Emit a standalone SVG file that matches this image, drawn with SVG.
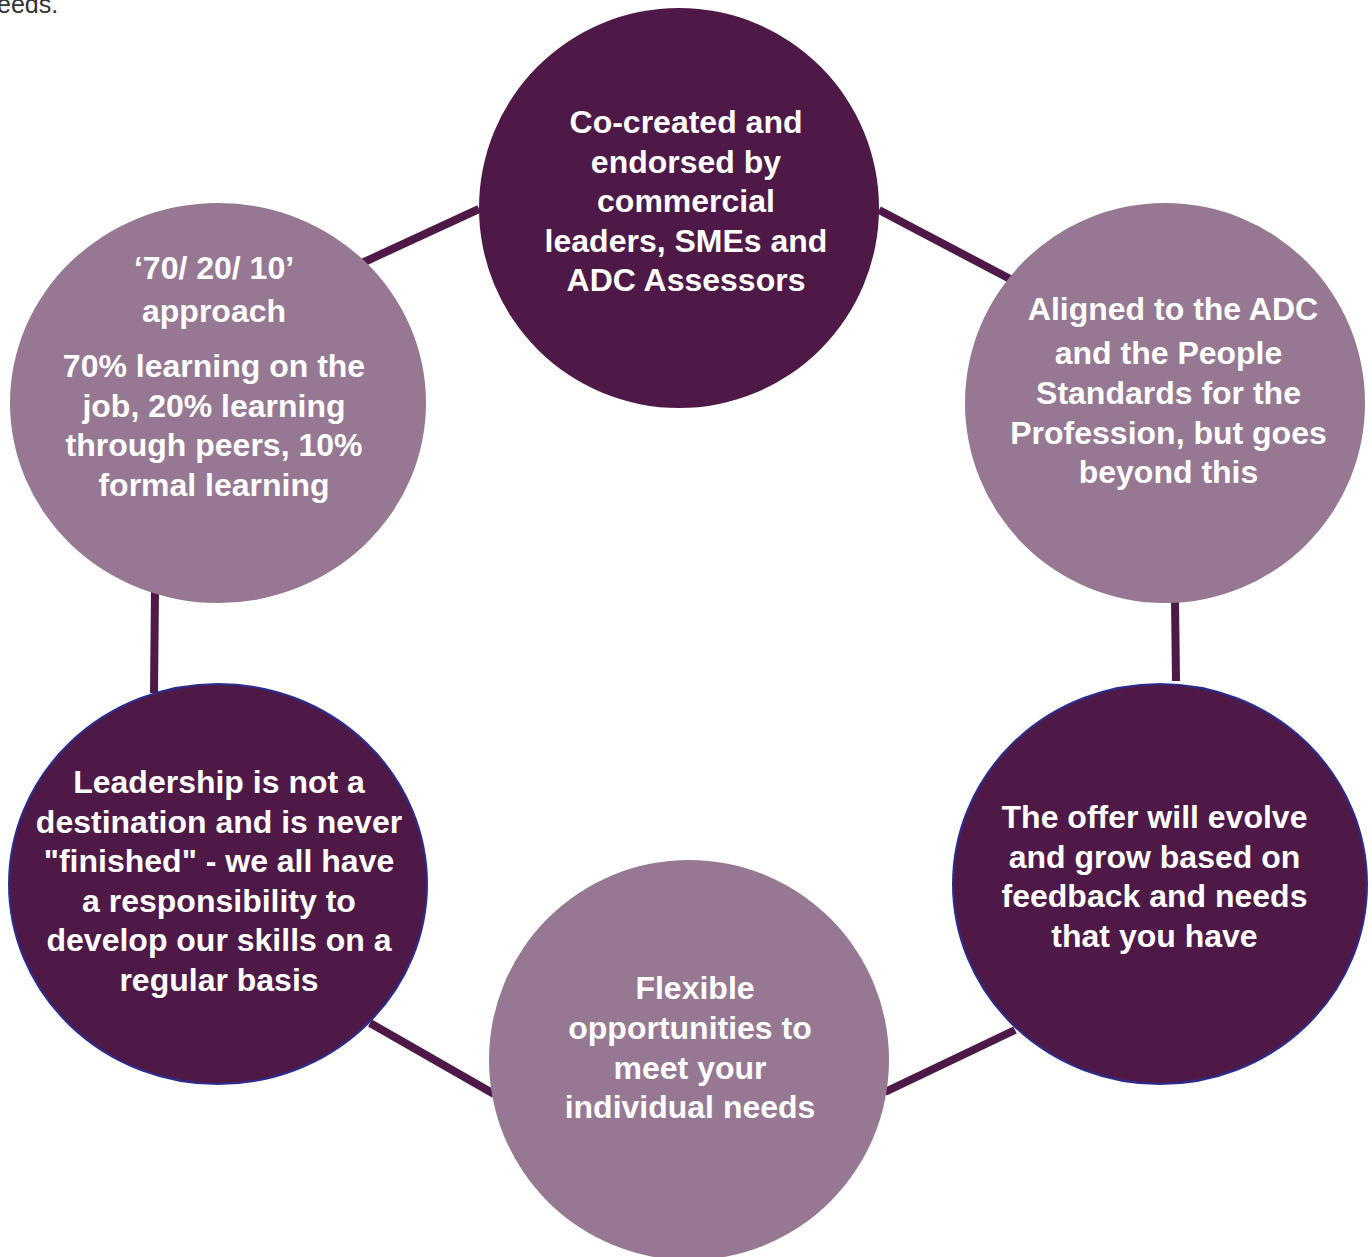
<svg xmlns="http://www.w3.org/2000/svg" width="1372" height="1257" viewBox="0 0 1372 1257">
<style>
.dark{fill:#4f1947}
.light{fill:#977893}
.blue{stroke:#2a2d8f;stroke-width:2}
.lbl{font-family:"Liberation Sans",Arial,sans-serif;font-weight:bold;font-size:32px;fill:#ffffff;text-anchor:middle}
.conn line{stroke:#4f1947;stroke-width:8}
.top{font-family:"Liberation Sans",Arial,sans-serif;font-size:25px;fill:#333333}
</style>
<rect width="1372" height="1257" fill="#ffffff"/>
<text class="top" x="-3" y="13">eeds.</text>
<g class="conn" id="connectors">
<line x1="362" y1="263" x2="479" y2="209"/>
<line x1="879" y1="210" x2="1012" y2="280"/>
<line x1="1175" y1="600" x2="1176" y2="681"/>
<line x1="1015" y1="1030" x2="885" y2="1092"/>
<line x1="370" y1="1023" x2="494" y2="1094"/>
<line x1="155" y1="590" x2="154" y2="693"/>
</g>
<g id="node-top">
<circle class="dark" cx="679" cy="208" r="200"/>
<text class="lbl"><tspan x="686" y="133">Co-created and</tspan><tspan x="686" y="172.5">endorsed by</tspan><tspan x="686" y="212">commercial</tspan><tspan x="686" y="251.5">leaders, SMEs and</tspan><tspan x="686" y="291">ADC Assessors</tspan></text>
</g>
<g id="node-topleft">
<ellipse class="light" cx="218" cy="403" rx="208" ry="200"/>
<text class="lbl"><tspan x="214" y="279">‘70/ 20/ 10’</tspan><tspan x="214" y="322">approach</tspan><tspan x="214" y="377">70% learning on the</tspan><tspan x="214" y="416.5">job, 20% learning</tspan><tspan x="214" y="456">through peers, 10%</tspan><tspan x="214" y="495.5">formal learning</tspan></text>
</g>
<g id="node-topright">
<circle class="light" cx="1165" cy="403" r="200"/>
<text class="lbl"><tspan x="1173" y="320">Aligned to the ADC</tspan><tspan x="1168.5" y="364">and the People</tspan><tspan x="1168.5" y="404">Standards for the</tspan><tspan x="1168.5" y="443.5">Profession, but goes</tspan><tspan x="1168.5" y="483">beyond this</tspan></text>
</g>
<g id="node-bottomright">
<ellipse class="dark blue" cx="1160" cy="884" rx="207" ry="200"/>
<text class="lbl"><tspan x="1154.5" y="828">The offer will evolve</tspan><tspan x="1154.5" y="867.5">and grow based on</tspan><tspan x="1154.5" y="907">feedback and needs</tspan><tspan x="1154.5" y="946.5">that you have</tspan></text>
</g>
<g id="node-bottom">
<circle class="light" cx="689" cy="1060" r="200"/>
<text class="lbl"><tspan x="695" y="999">Flexible</tspan><tspan x="690" y="1039">opportunities to</tspan><tspan x="690" y="1078.5">meet your</tspan><tspan x="690" y="1118">individual needs</tspan></text>
</g>
<g id="node-bottomleft">
<ellipse class="dark blue" cx="218" cy="884" rx="209" ry="200"/>
<text class="lbl"><tspan x="219" y="793">Leadership is not a</tspan><tspan x="219" y="832.5">destination and is never</tspan><tspan x="219" y="872">"finished" - we all have</tspan><tspan x="219" y="911.5">a responsibility to</tspan><tspan x="219" y="951">develop our skills on a</tspan><tspan x="219" y="990.5">regular basis</tspan></text>
</g>
</svg>
